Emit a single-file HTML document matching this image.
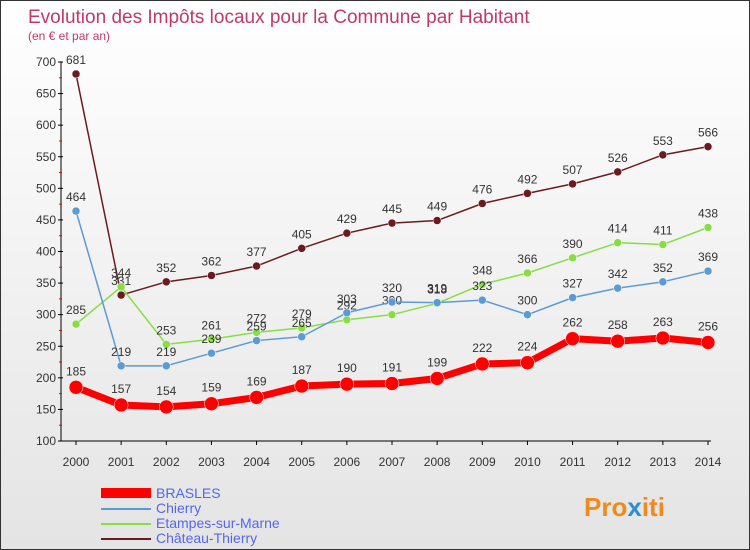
<!DOCTYPE html>
<html><head><meta charset="utf-8"><style>
body{margin:0}
#c{width:750px;height:550px;position:relative;font-family:"Liberation Sans",sans-serif;background:linear-gradient(#fff,#e4e4e4);box-sizing:border-box;border:1px solid #333;overflow:hidden}
text{font-family:"Liberation Sans",sans-serif}
</style></head><body>
<div id="c">
<svg id="s" width="750" height="550" style="position:absolute;left:0;top:0">
<text x="27" y="22" font-size="19" fill="#c0396a">Evolution des Impôts locaux pour la Commune par Habitant</text>
<text x="27" y="39" font-size="12" fill="#c0396a">(en € et par an)</text>
<g id="legend">
<rect x="100" y="487" width="50" height="10" fill="#f00"/>
<text x="155" y="497" font-size="14" fill="#5566ee">BRASLES</text>
<line x1="100" y1="508" x2="150" y2="508" stroke="#5b9bd5" stroke-width="2"/>
<text x="155" y="512" font-size="14" fill="#5566ee">Chierry</text>
<line x1="100" y1="523" x2="150" y2="523" stroke="#88dd44" stroke-width="2"/>
<text x="155" y="527" font-size="14" fill="#5566ee">Etampes-sur-Marne</text>
<line x1="100" y1="538" x2="150" y2="538" stroke="#6b1a20" stroke-width="2"/>
<text x="155" y="542" font-size="14" fill="#5566ee">Château-Thierry</text>
</g>
<text x="583" y="515" font-size="26" font-weight="bold" fill="#f08a1c">Pro<tspan fill="#2a8fd8">x</tspan>iti</text>
</svg>
</div>
<script>
const years=[2000,2001,2002,2003,2004,2005,2006,2007,2008,2009,2010,2011,2012,2013,2014];
const brasles=[185,157,154,159,169,187,190,191,199,222,224,262,258,263,256];
const chierry=[464,219,219,239,259,265,303,320,319,323,300,327,342,352,369];
const etampes=[285,344,253,261,272,279,292,300,318,348,366,390,414,411,438];
const chateau=[681,331,352,362,377,405,429,445,449,476,492,507,526,553,566];
const yTicks=[100,150,200,250,300,350,400,450,500,550,600,650,700];
const NS="http://www.w3.org/2000/svg",s=document.getElementById('s');
const X=i=>75+i*(707-75)/(years.length-1);
const Y=v=>440-(v-100)*(379/600);
function el(t,a,p){const e=document.createElementNS(NS,t);for(const k in a)e.setAttribute(k,a[k]);(p||s).appendChild(e);return e;}
const ax=el('g',{});


el('line',{x1:60,y1:Y(700),x2:60,y2:Y(100),stroke:'#000'},ax);
el('line',{x1:60,y1:Y(100),x2:710,y2:Y(100),stroke:'#000'},ax);
yTicks.forEach(v=>{
 el('line',{x1:57,y1:Y(v),x2:62,y2:Y(v),stroke:'#000'},ax);
 if(v<700)el('line',{x1:58,y1:Y(v+25),x2:61,y2:Y(v+25),stroke:'#e00'},ax);
 const t=el('text',{x:55,y:Y(v)+4,'font-size':12,'text-anchor':'end',fill:'#333'},ax);t.textContent=v;
 
 
});
years.forEach((y,i)=>{
 el('line',{x1:X(i),y1:Y(100),x2:X(i),y2:Y(100)+4,stroke:'#000'},ax);
 const t=el('text',{x:X(i),y:465,'font-size':12,'text-anchor':'middle',fill:'#333'},ax);t.textContent=y;
 
 
});
function series(name,vals,color,w,r,lblOff){
 const g=el('g',{});
 
 
 el('polyline',{points:vals.map((v,i)=>X(i)+','+Y(v)).join(' '),fill:'none',stroke:color,'stroke-width':w,'stroke-linejoin':'round'},g);
 vals.forEach((v,i)=>{
  const c=el('circle',{cx:X(i),cy:Y(v),r:r,fill:color,stroke:'#fff','stroke-width':0.5},g);
  
  
  const t=el('text',{x:X(i),y:Y(v)+lblOff,'font-size':12,'text-anchor':'middle',fill:'#333'},g);t.textContent=v;
  
  
 });
}
series('chateau',chateau,'#6b1a20',1.5,4,-10);
series('etampes',etampes,'#88dd44',1.5,4,-10);
series('chierry',chierry,'#5b9bd5',1.5,4,-10);
series('brasles',brasles,'#f00',7,7,-12);
</script>
</body></html>
